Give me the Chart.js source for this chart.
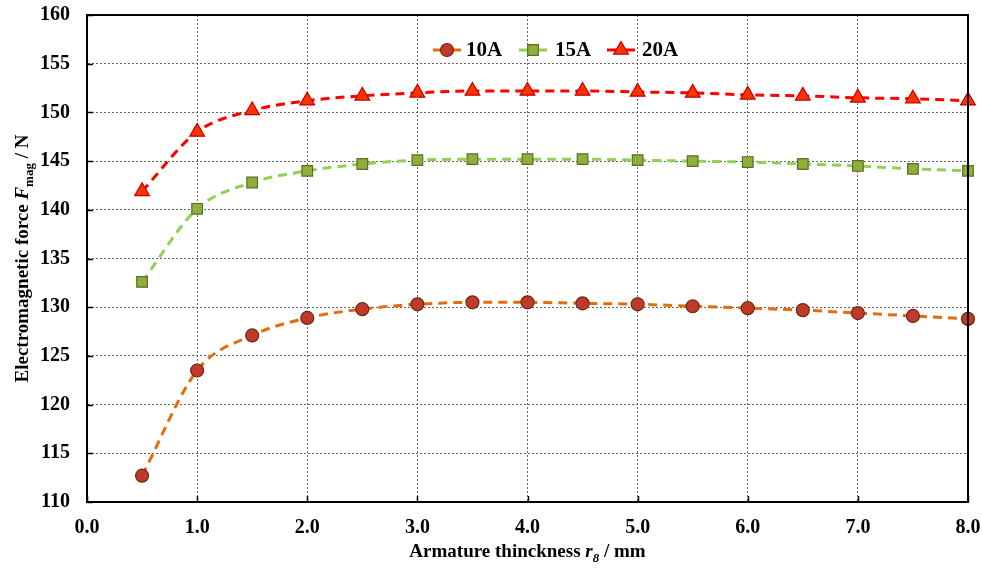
<!DOCTYPE html>
<html>
<head>
<meta charset="utf-8">
<script src="https://cdn.jsdelivr.net/npm/chart.js@4.4.1/dist/chart.umd.min.js"></script>
<style>
  html, body { margin: 0; padding: 0; background: #fff; }
  #wrap { width: 982px; height: 569px; }
</style>
</head>
<body>
<div id="wrap"><canvas id="force"></canvas></div>
<script>
// armature thickness (mm)
const thickness = [0.5, 1.0, 1.5, 2.0, 2.5, 3.0, 3.5, 4.0, 4.5, 5.0, 5.5, 6.0, 6.5, 7.0, 7.5, 8.0];
const force10A = [112.7, 123.5, 127.1, 128.9, 129.8, 130.3, 130.5, 130.5, 130.4, 130.3, 130.1, 129.9, 129.7, 129.4, 129.1, 128.8];
const force15A = [132.6, 140.1, 142.8, 144.0, 144.7, 145.1, 145.2, 145.2, 145.2, 145.1, 145.0, 144.9, 144.7, 144.5, 144.2, 144.0];
const force20A = [141.9, 148.0, 150.2, 151.2, 151.7, 152.0, 152.2, 152.2, 152.2, 152.1, 152.0, 151.8, 151.7, 151.5, 151.4, 151.2];
const seriesNames = ['10A', '15A', '20A'];

const serif = '"Liberation Serif", "Times New Roman", serif';

const toPoints = arr => arr.map((v, i) => ({ x: thickness[i], y: v }));

// legend drawn inside the plot area, like the original
const innerLegend = {
    id: 'innerLegend',
    afterDatasetsDraw(chart) {
        const ctx = chart.ctx;
        const y = 50;
        const items = [
            { ds: 0, x: 447, tx: 466 },
            { ds: 1, x: 533, tx: 555 },
            { ds: 2, x: 621, tx: 642 },
        ];
        ctx.save();
        items.forEach(it => {
            const ds = chart.data.datasets[it.ds];
            ctx.strokeStyle = ds.borderColor;
            ctx.lineWidth = 3;
            ctx.beginPath();
            ctx.moveTo(it.x - 14, y);
            ctx.lineTo(it.x + 14, y);
            ctx.stroke();
            ctx.fillStyle = ds.pointBackgroundColor;
            ctx.strokeStyle = ds.pointBorderColor;
            ctx.lineWidth = ds.pointBorderWidth;
            Chart.helpers.drawPoint(ctx, {
                pointStyle: ds.pointStyle,
                radius: ds.pointRadius,
                borderWidth: ds.pointBorderWidth
            }, it.x, y);
            ctx.fillStyle = '#000';
            ctx.font = 'bold 21px ' + serif;
            ctx.textBaseline = 'middle';
            ctx.fillText(ds.label, it.tx, y + 1);
        });
        ctx.restore();
    }
};

// axis titles with italic symbols and subscripts, frame and inner ticks
const axisTitles = {
    id: 'axisTitles',
    afterDraw(chart) {
        const ctx = chart.ctx;
        const area = chart.chartArea;
        ctx.save();
        ctx.fillStyle = '#000';
        ctx.textBaseline = 'alphabetic';

        // x title
        const parts = [
            { t: 'Armature thinckness ', f: 'bold 19px ' + serif, dy: 0 },
            { t: 'r', f: 'italic bold 19px ' + serif, dy: 0 },
            { t: '8', f: 'italic bold 13px ' + serif, dy: 5 },
            { t: ' / mm', f: 'bold 19px ' + serif, dy: 0 },
        ];
        let w = 0;
        parts.forEach(p => { ctx.font = p.f; w += ctx.measureText(p.t).width; });
        let x = (area.left + area.right) / 2 - w / 2;
        parts.forEach(p => {
            ctx.font = p.f;
            ctx.fillText(p.t, x, 557 + p.dy);
            x += ctx.measureText(p.t).width;
        });

        // y title (rotated)
        const yparts = [
            { t: 'Electromagnetic force ', f: 'bold 19px ' + serif, dy: 0 },
            { t: 'F', f: 'italic bold 19px ' + serif, dy: 0 },
            { t: 'mag', f: 'bold 13px ' + serif, dy: 5 },
            { t: ' / N', f: 'bold 19px ' + serif, dy: 0 },
        ];
        w = 0;
        yparts.forEach(p => { ctx.font = p.f; w += ctx.measureText(p.t).width; });
        ctx.translate(28, (area.top + area.bottom) / 2);
        ctx.rotate(-Math.PI / 2);
        x = -w / 2;
        yparts.forEach(p => {
            ctx.font = p.f;
            ctx.fillText(p.t, x, p.dy);
            x += ctx.measureText(p.t).width;
        });
        ctx.restore();

        // frame + inner tick marks
        ctx.save();
        ctx.strokeStyle = '#000';
        ctx.lineWidth = 2;
        ctx.beginPath();
        ctx.moveTo(area.left, area.top);
        ctx.lineTo(area.right, area.top);
        ctx.lineTo(area.right, area.bottom);
        ctx.stroke();
        ctx.lineWidth = 1.5;
        const ys = chart.scales.y, xs = chart.scales.x;
        ys.ticks.forEach(t => {
            const py = Math.round(ys.getPixelForValue(t.value)) + 0.5;
            ctx.beginPath(); ctx.moveTo(area.left, py); ctx.lineTo(area.left + 6, py); ctx.stroke();
        });
        xs.ticks.forEach(t => {
            const px = Math.round(xs.getPixelForValue(t.value)) + 0.5;
            ctx.beginPath(); ctx.moveTo(px, area.bottom); ctx.lineTo(px, area.bottom - 6); ctx.stroke();
        });
        ctx.restore();
    }
};

function lineSet(label, data, line, fill, border, style, radius) {
    return {
        label: label,
        data: toPoints(data),
        borderColor: line,
        borderWidth: 3,
        borderDash: [9, 6],
        cubicInterpolationMode: 'monotone',
        pointStyle: style,
        pointRadius: radius,
        pointBackgroundColor: fill,
        pointBorderColor: border,
        pointBorderWidth: 1.2,
        clip: false,
        fill: false
    };
}

new Chart(document.getElementById('force'), {
    type: 'line',
    data: {
        datasets: [
            lineSet(seriesNames[0], force10A, '#e46c0a', '#c0392b', '#6b2a10', 'circle', 6.5),
            lineSet(seriesNames[1], force15A, '#92d050', '#8fae3c', '#5b6e22', 'rect', 7.5),
            lineSet(seriesNames[2], force20A, '#ff0000', '#ff3300', '#c00000', 'triangle', 8.5)
        ]
    },
    options: {
        responsive: true,
        maintainAspectRatio: false,
        animation: false,
        layout: { padding: { top: 15, right: 14, left: 0, bottom: 0 } },
        plugins: {
            legend: { display: false },
            tooltip: { enabled: false }
        },
        scales: {
            x: {
                type: 'linear',
                min: 0,
                max: 8,
                afterFit: s => { s.height = 67; s.paddingLeft = 0; s.paddingRight = 0; },
                ticks: {
                    stepSize: 1,
                    color: '#000',
                    font: { family: serif, size: 20, weight: 'bold' },
                    padding: 14,
                    callback: v => v.toFixed(1)
                },
                grid: {
                    color: '#666',
                    lineWidth: 1,
                    tickLength: 0
                },
                border: { display: true, color: '#000', width: 2, dash: [2, 2] }
            },
            y: {
                min: 110,
                max: 160,
                afterFit: s => { s.width = 87; s.paddingTop = 0; s.paddingBottom = 0; },
                ticks: {
                    stepSize: 5,
                    color: '#000',
                    font: { family: serif, size: 20, weight: 'bold' },
                    padding: 17
                },
                grid: {
                    color: '#666',
                    lineWidth: 1,
                    tickLength: 0
                },
                border: { display: true, color: '#000', width: 2, dash: [2, 2] }
            }
        }
    },
    plugins: [innerLegend, axisTitles]
});
</script>
</body>
</html>
